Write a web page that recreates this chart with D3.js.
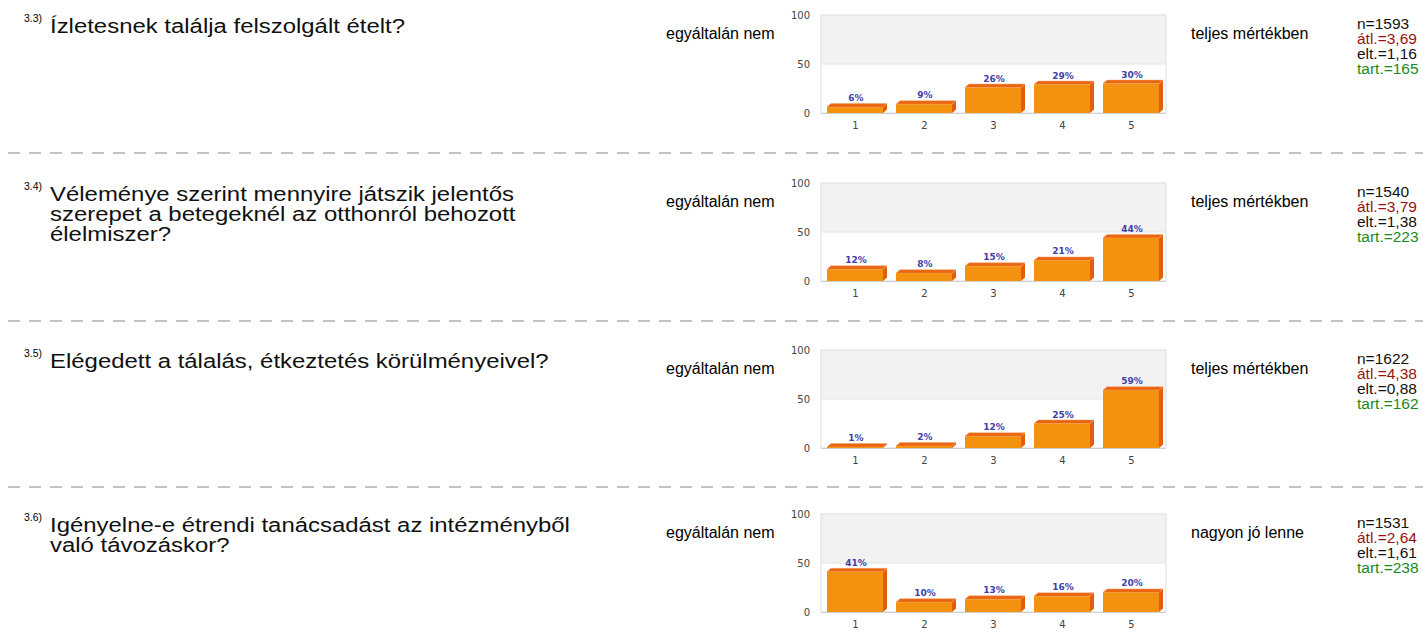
<!DOCTYPE html>
<html>
<head>
<meta charset="utf-8">
<script src="https://cdn.jsdelivr.net/npm/d3@7"></script>
<style>
body { margin: 0; background: #fff; }
svg { display: block; }
</style>
</head>
<body>
<div id="chart-area"></div>
<script>

let width = 1423,
height = 632;

// data
let categories = ["1", "2", "3", "4", "5"];
let prefixes = ["3.3)", "3.4)", "3.5)", "3.6)"];
let questions = [
	["Ízletesnek találja felszolgált ételt?"],
	["Véleménye szerint mennyire játszik jelentős", "szerepet a betegeknél az otthonról behozott", "élelmiszer?"],
	["Elégedett a tálalás, étkeztetés körülményeivel?"],
	["Igényelne-e étrendi tanácsadást az intézményből", "való távozáskor?"]
];
let leftLabels = ["egyáltalán nem", "egyáltalán nem", "egyáltalán nem", "egyáltalán nem"];
let rightLabels = ["teljes mértékben", "teljes mértékben", "teljes mértékben", "nagyon jó lenne"];
let percents = [
	[6, 9, 26, 29, 30],
	[12, 8, 15, 21, 44],
	[1, 2, 12, 25, 59],
	[41, 10, 13, 16, 20]
];
let nValues = ["1593", "1540", "1622", "1531"];
let avgValues = ["3,69", "3,79", "4,38", "2,64"];
let sdValues = ["1,16", "1,38", "0,88", "1,61"];
let tartValues = ["165", "223", "162", "238"];
let yTicks = [0, 50, 100];

let blockTops = [15, 183, 350, 514];
let sepYs = [153, 321, 487];
let plotLeft = 821, plotRight = 1166, plotH = 98;
let depthX = 4, depthY = 3.5;

let svg = d3.select("#chart-area").append("svg")
	.attr("width", width)
	.attr("height", height);

// dashed separators between the questions
svg.selectAll(".sep")
	.data(sepYs)
	.enter().append("line")
	.attr("class", "sep")
	.attr("x1", 8).attr("x2", width)
	.attr("y1", d => d).attr("y2", d => d)
	.style("stroke", "#b0b0b0")
	.style("stroke-width", 1.5)
	.style("stroke-dasharray", "12,9");

blockTops.forEach((top, i) => drawBlock(top, i));

function drawBlock(top, i) {
	let g = svg.append("g");
	let x = d3.scaleBand().domain(categories).range([plotLeft, plotRight]);
	let y = d3.scaleLinear().domain([0, 100]).range([top + plotH, top]);

	// question (the original font is wide, so stretch it a bit)
	g.append("text")
		.attr("x", 24).attr("y", top + 7)
		.style("font-family", "Liberation Sans, Arial, sans-serif")
		.style("font-size", "10.5px")
		.text(prefixes[i]);
	g.append("text")
		.attr("transform", "translate(50," + (top + 18) + ") scale(1.14,1)")
		.style("font-family", "Liberation Sans, Arial, sans-serif")
		.style("font-size", "21px")
		.style("fill", "#111")
		.selectAll("tspan")
		.data(questions[i])
		.enter().append("tspan")
		.attr("x", 0)
		.attr("dy", (d, j) => j == 0 ? 0 : 20)
		.text(d => d);

	// scale end labels
	g.append("text")
		.attr("x", 666).attr("y", top + 24)
		.style("font-family", "Liberation Sans, Arial, sans-serif")
		.style("font-size", "16px")
		.text(leftLabels[i]);
	g.append("text")
		.attr("x", 1191).attr("y", top + 24)
		.style("font-family", "Liberation Sans, Arial, sans-serif")
		.style("font-size", "16px")
		.text(rightLabels[i]);

	// stats
	let stats = [
		{t: "n=" + nValues[i], c: "#111"},
		{t: "átl.=" + avgValues[i], c: "#991111"},
		{t: "elt.=" + sdValues[i], c: "#111"},
		{t: "tart.=" + tartValues[i], c: "#1a8a1a"}
	];
	g.selectAll(".stat")
		.data(stats)
		.enter().append("text")
		.attr("class", "stat")
		.attr("x", 1357)
		.attr("y", (d, j) => top + 14 + j * 15)
		.style("font-family", "Liberation Sans, Arial, sans-serif")
		.style("font-size", "15.5px")
		.style("fill", d => d.c)
		.text(d => d.t);

	// plot background: grey upper band, white lower band
	g.append("rect")
		.attr("x", plotLeft).attr("y", y(100))
		.attr("width", plotRight - plotLeft).attr("height", y(50) - y(100))
		.style("fill", "#f2f2f2");
	g.append("rect")
		.attr("x", plotLeft).attr("y", y(100))
		.attr("width", plotRight - plotLeft).attr("height", y(0) - y(100))
		.style("fill", "none")
		.style("stroke", "#dddddd");
	g.append("line")
		.attr("x1", plotLeft).attr("x2", plotRight)
		.attr("y1", y(50)).attr("y2", y(50))
		.style("stroke", "#e4e4e4");

	// axes
	let yAxis = d3.axisLeft(y).tickValues(yTicks).tickSize(0).tickPadding(11);
	let ya = g.append("g").attr("transform", "translate(" + plotLeft + ",0)").call(yAxis);
	ya.select(".domain").remove();
	ya.selectAll("text")
		.style("font-family", "DejaVu Sans, Verdana, sans-serif")
		.style("font-size", "10px")
		.style("fill", "#444");

	let xAxis = d3.axisBottom(x).tickSize(0).tickPadding(9);
	let xa = g.append("g").attr("transform", "translate(0," + y(0) + ")").call(xAxis);
	xa.select(".domain").remove();
	xa.selectAll("text")
		.style("font-family", "DejaVu Sans, Verdana, sans-serif")
		.style("font-size", "10px")
		.style("fill", "#444");

	// 3d bars
	let data = categories.map((c, k) => ({c: c, v: percents[i][k]}));
	let bw = x.bandwidth() - 13;
	let bars = g.selectAll(".bar")
		.data(data)
		.enter().append("g")
		.attr("class", "bar");

	bars.append("path")
		.attr("d", d => {
			let x0 = x(d.c) + 6 + bw, yt = y(d.v), yb = y(0);
			return "M" + x0 + "," + yt + "L" + (x0 + depthX) + "," + (yt - depthY) +
				"L" + (x0 + depthX) + "," + (yb - depthY) + "L" + x0 + "," + yb + "Z";
		})
		.style("fill", "#e35d0b");
	bars.append("path")
		.attr("d", d => {
			let x0 = x(d.c) + 6, yt = y(d.v);
			return "M" + x0 + "," + yt + "L" + (x0 + depthX) + "," + (yt - depthY) +
				"L" + (x0 + bw + depthX) + "," + (yt - depthY) + "L" + (x0 + bw) + "," + yt + "Z";
		})
		.style("fill", "#ea650f")
		.style("stroke", "#f4a070")
		.style("stroke-width", 0.5);
	bars.append("rect")
		.attr("x", d => x(d.c) + 6)
		.attr("y", d => y(d.v))
		.attr("width", bw)
		.attr("height", d => y(0) - y(d.v))
		.style("fill", "#f2920f");

	bars.append("text")
		.attr("x", d => x(d.c) + 6 + bw / 2 + 1)
		.attr("y", d => y(d.v) - depthY - 2.5)
		.attr("text-anchor", "middle")
		.style("font-family", "DejaVu Sans, Verdana, sans-serif")
		.style("font-size", "9px")
		.style("font-weight", "bold")
		.style("fill", "#4040a8")
		.text(d => d.v + "%");

	// bottom axis line
	g.append("line")
		.attr("x1", plotLeft).attr("x2", plotRight)
		.attr("y1", y(0) + 0.5).attr("y2", y(0) + 0.5)
		.style("stroke", "#d0d0d0");
}

</script>
</body>
</html>
